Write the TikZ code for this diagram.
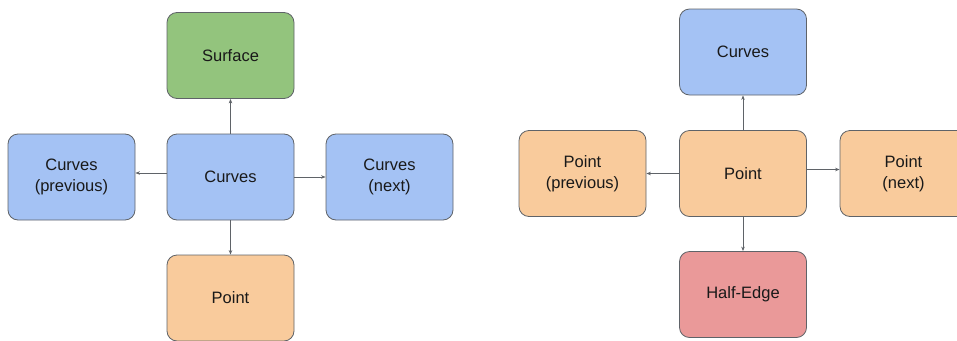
\documentclass[tikz,border=0pt]{standalone}
\usepackage{fontspec}
\setmainfont{Liberation Sans}
\usetikzlibrary{arrows.meta}

\definecolor{boxblue}{HTML}{A4C2F4}
\definecolor{boxgreen}{HTML}{93C47D}
\definecolor{boxorange}{HTML}{F9CB9C}
\definecolor{boxred}{HTML}{EA9999}
\definecolor{edgegrey}{HTML}{5F6368}

\tikzset{
  block/.style={draw=edgegrey, line width=0.8pt, rounded corners=10pt,
    minimum width=127pt, minimum height=86pt, align=center,
    font=\fontsize{16.5}{21}\selectfont, text=black!90},
  link/.style={draw=edgegrey, line width=0.7pt, -{Stealth[length=4.5pt,width=3.5pt]}}
}

\begin{document}
\begin{tikzpicture}[x=1pt,y=-1pt]
        \useasboundingbox (0,0) rectangle (957,340);
        \clip (0,0) rectangle (957,340);
        % curves record
        \node[block, fill=boxgreen] (surfL) at (230.5,55.5) {Surface};
        \node[block, fill=boxblue] (curL) at (230.5,177) {Curves};
        \node[block, fill=boxblue] (prevL) at (71.5,177) {Curves\\(previous)};
        \node[block, fill=boxblue] (nextL) at (389.5,177) {Curves\\(next)};
        \node[block, fill=boxorange] (ptL) at (230.5,298) {Point};
        \draw[link] (curL) -- (surfL);
        \draw[link] ([yshift=4pt]curL.west) -- ([yshift=4pt]prevL.east);
        \draw[link] (curL) -- (nextL);
        \draw[link] (curL) -- (ptL);
        % point record
        \node[block, fill=boxblue] (curR) at (743,52) {Curves};
        \node[block, fill=boxorange] (ptR) at (743,173.5) {Point};
        \node[block, fill=boxorange] (prevR) at (582.5,173.5) {Point\\(previous)};
        \node[block, fill=boxorange] (nextR) at (903.5,173.5) {Point\\(next)};
        \node[block, fill=boxred] (heR) at (743,294.5) {Half-Edge};
        \draw[link] (ptR) -- (curR);
        \draw[link] (ptR) -- (prevR);
        \draw[link] ([yshift=4pt]ptR.east) -- ([yshift=4pt]nextR.west);
        \draw[link] (ptR) -- (heR);
    \end{tikzpicture}
\end{document}
